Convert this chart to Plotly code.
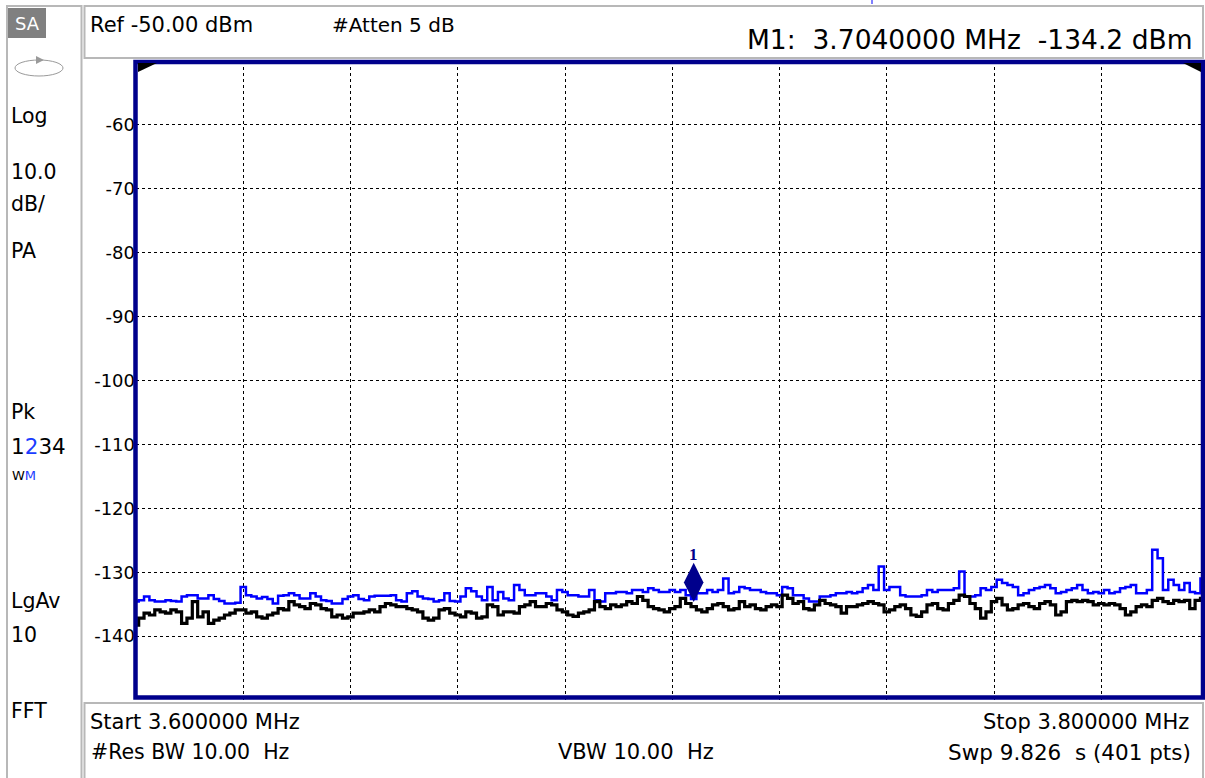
import plotly.graph_objects as go

# ---------------- data ----------------
START_MHZ = 3.600000
STOP_MHZ = 3.800000
N_SHOWN = 201  # sweep points (every other of 401)
freq_mhz = [START_MHZ + (STOP_MHZ - START_MHZ) * k / (N_SHOWN - 1) for k in range(N_SHOWN)]

# Trace 2 (blue, max hold) in dBm
trace2_dbm = [
    -134.6, -134.4, -133.8, -134.4, -134.6, -134.6, -134.4, -134.5, -134.6, -133.8,
    -133.6, -133.6, -134.1, -134.1, -133.6, -134.2, -134.5, -134.9, -134.9, -134.8,
    -132.3, -133.6, -133.8, -134.1, -133.9, -134.2, -134.9, -133.7, -133.6, -133.3,
    -133.6, -134.1, -134.1, -133.3, -133.8, -134.4, -134.5, -134.9, -134.9, -134.2,
    -133.8, -133.6, -134.2, -134.4, -133.8, -133.7, -133.7, -133.7, -133.6, -134.4,
    -134.6, -133.3, -133.0, -133.8, -134.1, -134.2, -134.6, -134.4, -133.3, -134.5,
    -134.6, -133.8, -132.5, -133.0, -133.8, -134.4, -132.3, -134.4, -133.1, -134.1,
    -134.4, -132.0, -132.8, -133.6, -133.6, -133.3, -133.3, -133.8, -134.4, -132.8,
    -133.1, -133.6, -133.6, -133.8, -133.8, -132.8, -134.4, -134.6, -133.3, -133.3,
    -133.1, -133.1, -133.3, -132.8, -132.8, -133.1, -132.5, -132.8, -133.1, -133.1,
    -132.8, -133.1, -132.8, -133.6, -134.2, -133.3, -133.3, -132.8, -133.1, -132.8,
    -131.0, -133.3, -133.1, -132.3, -132.5, -132.8, -132.8, -133.1, -133.3, -133.3,
    -133.6, -132.3, -132.5, -133.6, -133.6, -134.1, -134.6, -134.6, -133.8, -133.8,
    -133.6, -133.3, -133.3, -133.1, -133.3, -133.1, -132.5, -132.0, -132.8, -129.1,
    -132.8, -132.3, -132.3, -133.6, -133.8, -133.8, -133.8, -133.6, -132.8, -133.1,
    -132.8, -132.8, -132.8, -132.5, -129.9, -133.8, -133.8, -133.6, -132.5, -132.8,
    -132.3, -131.2, -131.7, -132.0, -132.3, -133.6, -133.3, -132.8, -132.5, -132.3,
    -132.0, -132.5, -133.3, -133.1, -132.8, -132.5, -132.0, -132.8, -133.3, -133.1,
    -133.3, -132.8, -133.3, -133.1, -132.5, -132.3, -132.0, -133.3, -133.3, -132.8,
    -126.5, -127.8, -132.8, -131.2, -132.0, -132.8, -131.7, -133.1, -133.3, -131.0,
    -132.8,
]

# Trace 1 (black, clear write) in dBm
trace1_dbm = [
    -138.3, -137.2, -136.4, -136.7, -135.9, -136.2, -136.4, -135.9, -136.2, -138.0,
    -137.2, -134.6, -137.0, -136.2, -138.0, -137.5, -137.2, -136.7, -136.4, -135.9,
    -135.9, -136.4, -136.2, -137.0, -137.2, -136.7, -136.4, -135.7, -135.9, -134.6,
    -135.1, -135.4, -135.7, -134.9, -135.1, -135.7, -135.9, -137.0, -136.7, -137.2,
    -137.0, -136.4, -136.4, -136.2, -135.9, -136.2, -135.4, -134.9, -135.1, -135.4,
    -135.4, -135.7, -135.9, -136.2, -137.2, -137.5, -137.2, -135.9, -135.7, -136.4,
    -136.7, -137.0, -136.2, -136.4, -137.2, -137.0, -135.1, -135.4, -136.7, -136.2,
    -136.2, -136.4, -135.4, -135.1, -134.6, -135.4, -135.4, -134.9, -135.1, -135.9,
    -136.2, -136.7, -136.9, -136.4, -136.2, -135.9, -134.6, -135.4, -135.7, -135.1,
    -135.4, -135.1, -134.6, -134.9, -133.8, -134.4, -135.4, -135.7, -135.9, -136.2,
    -135.7, -135.4, -134.1, -134.9, -135.4, -135.9, -136.2, -135.7, -135.1, -134.9,
    -135.4, -135.9, -135.7, -134.6, -135.4, -135.1, -135.7, -135.9, -135.4, -135.1,
    -135.4, -133.6, -134.1, -134.9, -134.6, -135.7, -135.9, -135.1, -134.4, -134.9,
    -135.1, -135.4, -136.4, -135.4, -135.4, -135.1, -134.9, -134.6, -134.9, -135.1,
    -136.2, -135.9, -135.4, -135.1, -135.7, -136.7, -136.9, -136.2, -135.1, -134.9,
    -135.7, -135.9, -134.9, -134.4, -133.6, -133.8, -134.9, -135.7, -137.2, -136.2,
    -134.6, -134.1, -135.1, -135.9, -135.7, -135.1, -134.9, -135.4, -135.7, -134.9,
    -134.6, -135.1, -136.7, -136.2, -134.6, -134.4, -134.6, -134.4, -134.6, -135.1,
    -134.9, -135.1, -134.9, -135.1, -135.7, -136.7, -136.2, -135.4, -135.1, -135.4,
    -134.4, -134.1, -134.6, -134.9, -134.4, -134.6, -134.4, -135.7, -134.4, -134.1,
    -134.4,
]

y_tick_vals = [-60, -70, -80, -90, -100, -110, -120, -130, -140]
y_tick_text = ["-60", "-70", "-80", "-90", "-100", "-110", "-120", "-130", "-140"]
REF_DBM = -50.0
DB_PER_DIV = 10.0

marker_freq_mhz = 3.7040000
marker_level_dbm = -134.2

header_ref = "Ref -50.00 dBm"
header_atten = "#Atten 5 dB"
header_marker = "M1:\u00a0\u00a03.7040000 MHz\u00a0\u00a0-134.2 dBm"
footer_start = "Start 3.600000 MHz"
footer_stop = "Stop 3.800000 MHz"
footer_rbw = "#Res BW 10.00\u00a0\u00a0Hz"
footer_vbw = "VBW 10.00\u00a0\u00a0Hz"
footer_swp = "Swp 9.826\u00a0\u00a0s (401 pts)"

# ---------------- layout helpers ----------------
W, H = 1205, 778
FONT = "DejaVu Sans"
NAVY = "#00008C"
BLUE = "#0000FF"
PANEL_BLUE = "#1a3cff"


def px(x):
    return x / W


def py(y):
    return 1 - y / H


# plot box in pixels (grid pitch ~107.25 px per division; right edge cropped by the screen)
PLOT_L, PLOT_T, PLOT_B = 136, 61, 700
GRID_PITCH = 107.25
x_end = START_MHZ + (STOP_MHZ - START_MHZ) / 10 * (W - PLOT_L) / GRID_PITCH

shapes = []
# plot frame
shapes.append(dict(type="rect", xref="paper", yref="paper",
                   x0=px(135.5), x1=px(1203), y0=py(697.5), y1=py(62),
                   line=dict(color=NAVY, width=4.5), layer="above"))
# corner wedges
shapes.append(dict(type="path", xref="paper", yref="paper",
                   path=f"M {px(138)},{py(63)} L {px(157)},{py(63)} L {px(138)},{py(72)} Z",
                   fillcolor="black", line=dict(width=0), layer="above"))
shapes.append(dict(type="path", xref="paper", yref="paper",
                   path=f"M {px(1201)},{py(63)} L {px(1183)},{py(63)} L {px(1201)},{py(72)} Z",
                   fillcolor="black", line=dict(width=0), layer="above"))
# left panel box
shapes.append(dict(type="rect", xref="paper", yref="paper",
                   x0=px(7), x1=px(81.5), y0=py(800), y1=py(6),
                   line=dict(color="#b8b8b8", width=2)))
# header / footer boxes
shapes.append(dict(type="rect", xref="paper", yref="paper",
                   x0=px(84.5), x1=px(1203), y0=py(58), y1=py(6),
                   line=dict(color="#b8b8b8", width=2)))
shapes.append(dict(type="rect", xref="paper", yref="paper",
                   x0=px(84.5), x1=px(1203), y0=py(800), y1=py(703),
                   line=dict(color="#b8b8b8", width=2)))
# SA tag
shapes.append(dict(type="rect", xref="paper", yref="paper",
                   x0=px(8), x1=px(46), y0=py(38), y1=py(8),
                   fillcolor="#808080", line=dict(width=0)))
# sweep icon
shapes.append(dict(type="circle", xref="paper", yref="paper",
                   x0=px(15), x1=px(63), y0=py(76), y1=py(60),
                   line=dict(color="#9a9a9a", width=1)))
shapes.append(dict(type="path", xref="paper", yref="paper",
                   path=f"M {px(36)},{py(56)} L {px(44)},{py(60)} L {px(36)},{py(64)} Z",
                   fillcolor="#9a9a9a", line=dict(width=0)))
# small blue tick at very top
shapes.append(dict(type="line", xref="paper", yref="paper",
                   x0=px(872), x1=px(872), y0=py(0), y1=py(4),
                   line=dict(color=BLUE, width=1)))

annotations = []


def txt(x, y, s, size, anchor="left", color="black", family=FONT):
    annotations.append(dict(x=px(x), y=py(y), xref="paper", yref="paper", text=s,
                            showarrow=False, xanchor=anchor, yanchor="middle",
                            font=dict(family=family, size=size, color=color)))


txt(88, 25, header_ref, 21)
txt(330, 25, header_atten, 20)
txt(1194, 40, header_marker, 26.5, anchor="right")
txt(88, 722, footer_start, 21)
txt(1191, 722, footer_stop, 21, anchor="right")
txt(89, 752, footer_rbw, 20.5)
txt(556, 752, footer_vbw, 21)
txt(1193, 752, footer_swp, 21.5, anchor="right")

txt(27, 23, "SA", 18, anchor="center", color="white")
txt(9, 116, "Log", 20.5)
txt(9, 172, "10.0", 20.5)
txt(9, 204, "dB/", 20.5)
txt(9, 251, "PA", 20.5)
txt(9, 412, "Pk", 20.5)
txt(9, 447, f"1<span style='color:{PANEL_BLUE}'>2</span>34", 21.5)
txt(10, 475, f"W<span style='color:{PANEL_BLUE}'>M</span>", 13)
txt(9, 601, "LgAv", 20.5)
txt(9, 635, "10", 20.5)
txt(9, 711, "FFT", 20.5)

# marker label "1" above the marker glyph
annotations.append(dict(
    x=marker_freq_mhz, y=marker_level_dbm + 6.9, xref="x", yref="y", text="<b>1</b>",
    showarrow=False, xanchor="center", yanchor="middle",
    font=dict(family="Liberation Serif", size=17, color=NAVY),
))

fig = go.Figure(layout=dict(
    width=W, height=H, margin=dict(l=0, r=0, t=0, b=0),
    paper_bgcolor="white", plot_bgcolor="white",
    shapes=shapes, annotations=annotations, showlegend=False,
))

fig.add_trace(go.Scatter(
    x=freq_mhz, y=trace2_dbm, mode="lines", line=dict(color=BLUE, width=2.5, shape="hvh"),
    hoverinfo="skip", showlegend=False,
))
fig.add_trace(go.Scatter(
    x=freq_mhz, y=trace1_dbm, mode="lines", line=dict(color="black", width=3.2, shape="hvh"),
    hoverinfo="skip", showlegend=False,
))
# marker M1 (glyph sitting on the trace)
fig.add_trace(go.Scatter(
    x=[marker_freq_mhz], y=[marker_level_dbm + 2.6], mode="markers",
    marker=dict(symbol="diamond-tall", size=28, color=NAVY, line=dict(width=0)),
    hoverinfo="skip", showlegend=False,
))

fig.update_xaxes(
    domain=[px(PLOT_L), 1.0], range=[START_MHZ, x_end],
    tick0=START_MHZ, dtick=(STOP_MHZ - START_MHZ) / 10,
    showgrid=True, gridcolor="black", gridwidth=1, griddash="3px,3px",
    showticklabels=False, zeroline=False, showline=False, ticks="",
)
fig.update_yaxes(
    domain=[py(PLOT_B), py(PLOT_T)], range=[REF_DBM - 10 * DB_PER_DIV, REF_DBM],
    tickvals=y_tick_vals, ticktext=y_tick_text,
    showgrid=True, gridcolor="black", gridwidth=1, griddash="3px,3px",
    tickfont=dict(family=FONT, size=18, color="black"),
    ticks="", ticklen=0, ticklabelstandoff=0,
    zeroline=False, showline=False,
)

fig.write_html("out.html")
